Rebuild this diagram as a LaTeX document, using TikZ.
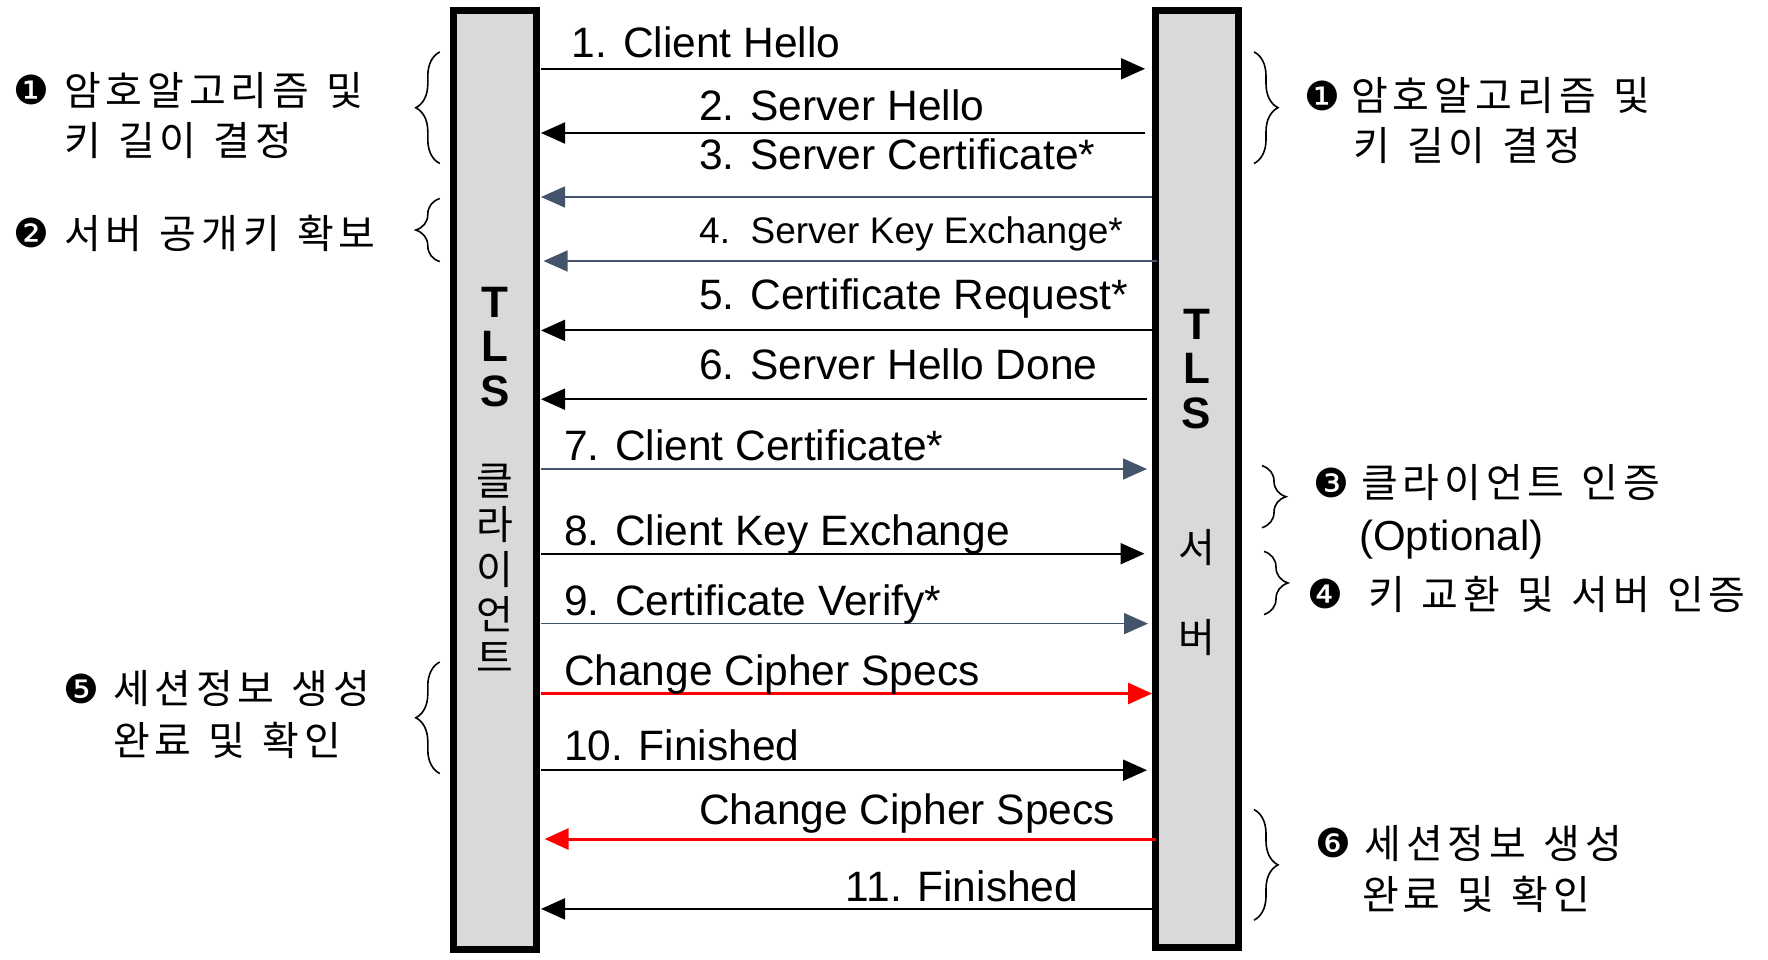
\documentclass[tikz,border=0pt]{standalone}
\usepackage{fontspec}
\setmainfont{Liberation Sans}
\newfontfamily\krfont{Noto Sans CJK KR}[LetterSpace=12,WordSpace=1.25]
\newfontfamily\krplain{Noto Sans CJK KR}
\newfontfamily\dvfont{DejaVu Sans}
\usetikzlibrary{arrows.meta,decorations.pathreplacing}
\definecolor{barfill}{HTML}{D9D9D9}
\definecolor{slate}{HTML}{44546A}
\definecolor{redline}{HTML}{FF0000}
\begin{document}
\begin{tikzpicture}[x=1pt,y=-1pt,
  bar/.style={draw=black, line width=7, fill=barfill, inner sep=0, minimum width=83},
  lbl/.style={anchor=base west, inner sep=0, font=\fontsize{42.5}{50}\selectfont},
  lblsmall/.style={anchor=base west, inner sep=0, font=\fontsize{37}{44}\selectfont},
  krt/.style={anchor=west, inner sep=0, font=\krfont\fontsize{40}{48}\selectfont},
  opt/.style={anchor=base west, inner sep=0, font=\fontsize{42}{50}\selectfont},
  num/.style={anchor=west, inner sep=0, font=\dvfont\fontsize{40}{46}\selectfont},
  vlat/.style={inner sep=0, font=\bfseries\fontsize{44}{50}\selectfont},
  vkr/.style={inner sep=0, font=\krplain\fontsize{40}{48}\selectfont},
  tip/.style={-{Triangle[length=24,width=21]}},
  msgblack/.style={tip, line width=2, draw=black},
  msgslate/.style={tip, line width=1.5, draw=slate, -{Triangle[length=24,width=21,fill=slate]}},
  msgred/.style={line width=3, draw=redline, -{Triangle[length=24,width=21,fill=redline]}},
  bracel/.style={draw=black, line width=1.6, decorate, decoration={brace, amplitude=24, aspect=0.5}},
]
\useasboundingbox (0,0) rectangle (1768,959);

% lifelines
\node[bar, minimum height=939] (cbar) at (495.2,479.5) {};
\node[bar, minimum height=937] (sbar) at (1196.5,478.5) {};

% vertical labels in bars
\node[vlat] (cT) at (495.2,302) {T};
\node[vlat] (cL) at (495.2,346) {L};
\node[vlat] (cS) at (495.2,391) {S};
\node[vkr] (ck1) at (495.2,481.5) {클};
\node[vkr] (ck2) at (495.2,524.3) {라};
\node[vkr] (ck3) at (495.2,569.4) {이};
\node[vkr] (ck4) at (495.2,614.5) {언};
\node[vkr] (ck5) at (495.2,657.4) {트};

\node[vlat] (sT) at (1196.5,324.7) {T};
\node[vlat] (sL) at (1196.5,368.7) {L};
\node[vlat] (sS) at (1196.5,413.8) {S};
\node[vkr] (sk1) at (1196.5,548) {서};
\node[vkr] (sk2) at (1196.5,637.1) {버};

% arrow end coordinates
\coordinate (c1) at (541,68.8);   \coordinate (s1) at (1145,68.8);
\coordinate (c2) at (541,133);    \coordinate (s2) at (1145,133);
\coordinate (c3) at (541,197);    \coordinate (s3) at (1152,197);
\coordinate (c4) at (543.5,261);  \coordinate (s4) at (1157,261);
\coordinate (c5) at (541,330.4);  \coordinate (s5) at (1152,330.4);
\coordinate (c6) at (541,399.2);  \coordinate (s6) at (1147,399.2);
\coordinate (c7) at (541,469);    \coordinate (s7) at (1147,469);
\coordinate (c8) at (541,553.7);  \coordinate (s8) at (1144.5,553.7);
\coordinate (c9) at (541,623.6);  \coordinate (s9) at (1148,623.6);
\coordinate (cA) at (541,693.5);  \coordinate (sA) at (1152,693.5);
\coordinate (c10) at (541,770.2); \coordinate (s10) at (1147,770.2);
\coordinate (cB) at (544.6,839);  \coordinate (sB) at (1156,839);
\coordinate (c11) at (541,908.9); \coordinate (s11) at (1152,908.9);

\draw[msgblack] (c1) -- (s1);
\draw[msgblack] (s2) -- (c2);
\draw[msgslate] (s3) -- (c3);
\draw[msgslate] (s4) -- (c4);
\draw[msgblack] (s5) -- (c5);
\draw[msgblack] (s6) -- (c6);
\draw[msgslate] (c7) -- (s7);
\draw[msgblack] (c8) -- (s8);
\draw[msgslate] (c9) -- (s9);
\draw[msgred] (cA) -- (sA);
\draw[msgblack] (c10) -- (s10);
\draw[msgred] (sB) -- (cB);
\draw[msgblack] (s11) -- (c11);

% message labels
\node[lbl] (t1) at (571.7,57) {1. Client Hello};
\node[lbl] (t2) at (699,120) {2. Server Hello};
\node[lbl] (t3) at (699,169.7) {3. Server Certificate*};
\node[lblsmall] (t4) at (699,243.2) {4.\ \ Server Key Exchange*};
\node[lbl] (t5) at (699,309.5) {5. Certificate Request*};
\node[lbl] (t6) at (699,379.4) {6. Server Hello Done};
\node[lbl] (t7) at (563.8,460.6) {7. Client Certificate*};
\node[lbl] (t8) at (563.8,545.2) {8. Client Key Exchange};
\node[lbl] (t9) at (563.8,615.1) {9. Certificate Verify*};
\node[lbl] (tA) at (563.8,685) {Change Cipher Specs};
\node[lbl] (t10) at (563.8,760.5) {10. Finished};
\node[lbl] (tB) at (699,824.8) {Change Cipher Specs};
\node[lbl] (t11) at (845.7,901.5) {11. Finished};

% left braces
\draw[bracel] (439.8,163.5) -- (439.8,51.9);
\draw[bracel] (439.8,261.6) -- (439.8,198.5);
\draw[bracel] (439.8,773.5) -- (439.8,662);
% right braces
\draw[bracel] (1254,51.9) -- (1254,163.5);
\draw[bracel] (1262,465.7) -- (1262,527.7);
\draw[bracel] (1264,551.4) -- (1264,614.5);
\draw[bracel] (1254,809.6) -- (1254,920.1);

% left annotations
\node[num] (n1l) at (13,90.2) {❶};
\node[krt] (a1l) at (64,90.2) {암호알고리즘 및};
\node[krt] (b1l) at (64,141) {키 길이 결정};
\node[num] (n2l) at (13,233.4) {❷};
\node[krt] (a2l) at (64,233.4) {서버 공개키 확보};
\node[num] (n5l) at (63.5,689) {❺};
\node[krt] (a5l) at (112.8,689) {세션정보 생성};
\node[krt] (b5l) at (112.8,740.8) {완료 및 확인};

% right annotations
\node[num] (n1r) at (1304,95.8) {❶};
\node[krt] (a1r) at (1350.9,95.8) {암호알고리즘 및};
\node[krt] (b1r) at (1353,145.5) {키 길이 결정};
\node[num] (n3r) at (1313,482.6) {❸};
\node[krt] (a3r) at (1361,482.6) {클라이언트 인증};
\node[opt] (b3r) at (1358.8,550.6) {(Optional)};
\node[num] (n4r) at (1307.5,594.2) {❹};
\node[krt] (a4r) at (1367.8,594.2) {키 교환 및 서버 인증};
\node[num] (n6r) at (1315.5,843.4) {❻};
\node[krt] (a6r) at (1364.4,843.4) {세션정보 생성};
\node[krt] (b6r) at (1362,894.2) {완료 및 확인};
\end{tikzpicture}
\end{document}
